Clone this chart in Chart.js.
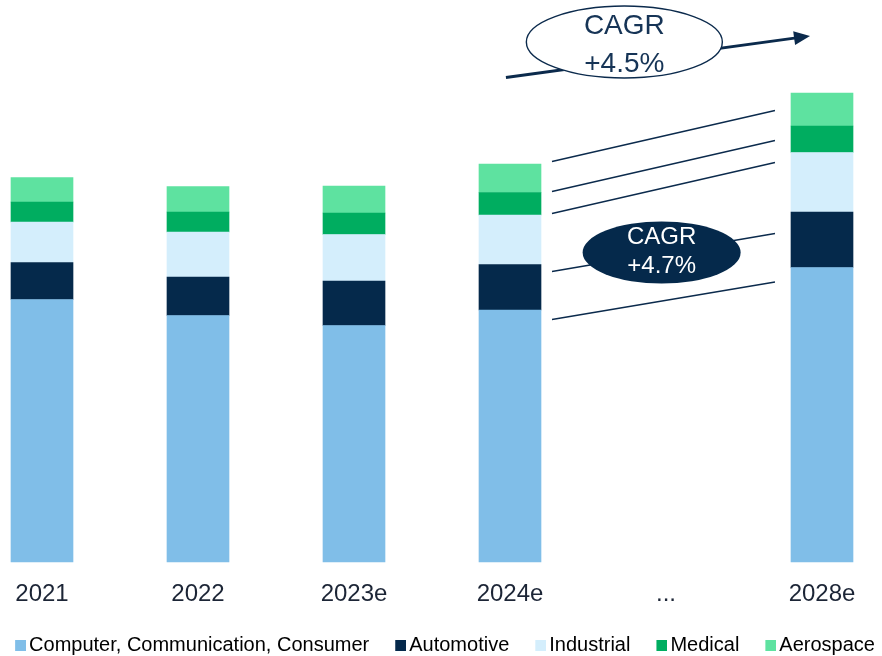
<!DOCTYPE html>
<html>
<head>
<meta charset="utf-8">
<script src="https://cdn.jsdelivr.net/npm/chart.js@4.4.1/dist/chart.umd.min.js"></script>
<style>
  html, body { margin: 0; padding: 0; background: #fff; }
  #wrap { position: relative; width: 882px; height: 656px; }
</style>
</head>
<body>
<div id="wrap"><canvas id="chart"></canvas></div>
<script>
// ── Données ───────────────────────────────────────────────────────────────────
const YEARS      = ['2021', '2022', '2023e', '2024e', '...', '2028e'];
const COMPUTER   = [52.5, 49.3, 47.3, 50.4, null, 58.9];
const AUTOMOTIVE = [7.4, 7.7, 8.9, 9.1, null, 11.1];
const INDUSTRIAL = [8.1, 9.0, 9.3, 9.9, null, 11.9];
const MEDICAL    = [4.0, 4.0, 4.3, 4.5, null, 5.3];
const AEROSPACE  = [4.9, 5.1, 5.4, 5.7, null, 6.6];

const CAGR_TOTAL   = '+4.5%';
const CAGR_SEGMENT = '+4.7%';

// lignes de liaison 2024e -> 2028e (valeur côté gauche / côté droit)
const LINK_FROM = [80.1, 74.1, 69.7, 58.1, 48.5];
const LINK_TO   = [90.3, 84.3, 79.9, 65.7, 56.0];

// ── Thème ─────────────────────────────────────────────────────────────────────
const NAVY = '#0b2a4c';
const FONT = "'Liberation Sans', Arial, sans-serif";
const COLORS = {
  computer:   '#80bee8',
  automotive: '#05294b',
  industrial: '#d4eefc',
  medical:    '#00ad60',
  aerospace:  '#5ee2a0',
};

Chart.defaults.font.family = FONT;

// petit carré de légende, décalé à droite pour coller au texte
function swatch(color, boxW) {
  const c = document.createElement('canvas');
  c.width = boxW + 14;
  c.height = 11;
  const g = c.getContext('2d');
  g.fillStyle = color;
  g.fillRect(boxW + 3, 0, 11, 11);
  return c;
}

// ── Annotations CAGR ──────────────────────────────────────────────────────────
const cagrPlugin = {
  id: 'cagr',
  afterDatasetsDraw(chart) {
    const { ctx, scales: { x, y } } = chart;
    const bars = chart.getDatasetMeta(0).data;
    const from = bars[3], to = bars[5];
    const x0 = from.x + from.width / 2 + 11;
    const x1 = to.x - to.width / 2 - 16;

    ctx.save();

    // liaisons entre segments
    ctx.strokeStyle = NAVY;
    ctx.lineWidth = 1.3;
    LINK_FROM.forEach((v, i) => {
      ctx.beginPath();
      ctx.moveTo(x0, y.getPixelForValue(v));
      ctx.lineTo(x1, y.getPixelForValue(LINK_TO[i]));
      ctx.stroke();
    });

    // ellipse foncée (CAGR segments)
    const ex = x.getPixelForValue(3.972), ey = y.getPixelForValue(61.9);
    ctx.fillStyle = '#05294b';
    ctx.beginPath();
    ctx.ellipse(ex, ey, 79, 31, 0, 0, Math.PI * 2);
    ctx.fill();
    ctx.fillStyle = '#ffffff';
    ctx.font = `24px ${FONT}`;
    ctx.textAlign = 'center';
    ctx.textBaseline = 'middle';
    ctx.fillText('CAGR', ex, ey - 15);
    ctx.fillText(CAGR_SEGMENT, ex, ey + 14);

    // flèche globale
    const ax0 = x.getPixelForValue(2.974), ay0 = y.getPixelForValue(96.9);
    const ax1 = x.getPixelForValue(4.923), ay1 = y.getPixelForValue(105.2);
    const ang = Math.atan2(ay1 - ay0, ax1 - ax0);
    ctx.strokeStyle = NAVY;
    ctx.lineWidth = 3;
    ctx.beginPath();
    ctx.moveTo(ax0, ay0);
    ctx.lineTo(ax1 - 12 * Math.cos(ang), ay1 - 12 * Math.sin(ang));
    ctx.stroke();
    ctx.fillStyle = NAVY;
    ctx.beginPath();
    ctx.moveTo(ax1, ay1);
    ctx.lineTo(ax1 - 16 * Math.cos(ang) + 7 * Math.sin(ang), ay1 - 16 * Math.sin(ang) - 7 * Math.cos(ang));
    ctx.lineTo(ax1 - 16 * Math.cos(ang) - 7 * Math.sin(ang), ay1 - 16 * Math.sin(ang) + 7 * Math.cos(ang));
    ctx.closePath();
    ctx.fill();

    // ellipse blanche (CAGR total)
    const tx = x.getPixelForValue(3.733), ty = y.getPixelForValue(104.0);
    ctx.fillStyle = '#ffffff';
    ctx.lineWidth = 1.4;
    ctx.beginPath();
    ctx.ellipse(tx, ty, 98, 36, 0, 0, Math.PI * 2);
    ctx.fill();
    ctx.stroke();
    ctx.fillStyle = '#163456';
    ctx.font = `28px ${FONT}`;
    ctx.fillText('CAGR', tx, ty - 16);
    ctx.fillText(CAGR_TOTAL, tx, ty + 22);

    ctx.restore();
  },
};

// ── Graphique ─────────────────────────────────────────────────────────────────
const BOX_W = 30;

new Chart(document.getElementById('chart'), {
  type: 'bar',
  data: {
    labels: YEARS,
    datasets: [
      { label: 'Computer, Communication, Consumer', data: COMPUTER,   backgroundColor: COLORS.computer },
      { label: 'Automotive',                        data: AUTOMOTIVE, backgroundColor: COLORS.automotive },
      { label: 'Industrial',                        data: INDUSTRIAL, backgroundColor: COLORS.industrial },
      { label: 'Medical',                           data: MEDICAL,    backgroundColor: COLORS.medical },
      { label: 'Aerospace',                         data: AEROSPACE,  backgroundColor: COLORS.aerospace },
    ],
  },
  options: {
    responsive: true,
    maintainAspectRatio: false,
    animation: false,
    layout: { padding: { top: 62, bottom: -9, left: -18, right: 0 } },
    datasets: { bar: { clip: false, barThickness: 62, borderWidth: 0 } },
    scales: {
      x: {
        stacked: true,
        offset: false,
        grid: { display: false, drawTicks: false },
        border: { display: false },
        ticks: { color: '#1c2536', font: { size: 24 }, padding: 18, autoSkip: false, maxRotation: 0 },
        afterFit(s) {
          s.height = 73;
          s.paddingLeft = 0;
          s.paddingRight = 0;
        },
      },
      y: {
        stacked: true,
        min: 0,
        max: 100,
        grid: { display: false },
        border: { display: false },
        ticks: { display: false },
        afterFit(s) { s.width = 60; },
      },
      yRight: {
        type: 'linear',
        position: 'right',
        grid: { display: false },
        border: { display: false },
        ticks: { display: false },
        afterFit(s) { s.width = 60; },
      },
    },
    plugins: {
      tooltip: { enabled: false },
      legend: {
        position: 'bottom',
        labels: {
          color: '#2b303a',
          font: { size: 20 },
          padding: 0,
          usePointStyle: true,
          pointStyleWidth: BOX_W,
          generateLabels(chart) {
            return chart.data.datasets.map((ds, i) => ({
              text: ds.label,
              fillStyle: ds.backgroundColor,
              strokeStyle: ds.backgroundColor,
              lineWidth: 0,
              pointStyle: swatch(ds.backgroundColor, BOX_W),
              hidden: false,
              datasetIndex: i,
            }));
          },
        },
      },
    },
  },
  plugins: [cagrPlugin],
});
</script>
</body>
</html>
